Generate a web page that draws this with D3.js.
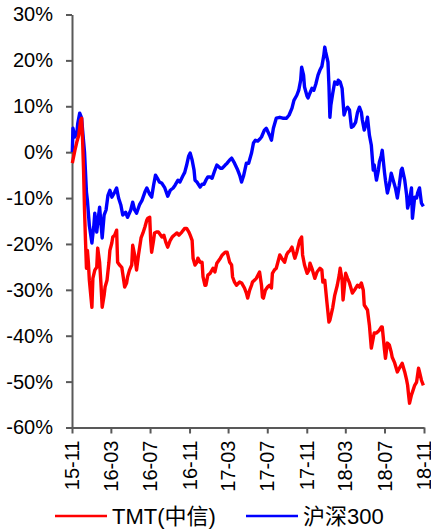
<!DOCTYPE html>
<html>
<head>
<meta charset="utf-8">
<script src="https://cdn.jsdelivr.net/npm/d3@7"></script>
<style>
  body { margin: 0; background: #fff; }
  text { font-family: "Liberation Sans", Arial, "Noto Sans CJK SC", sans-serif; }
</style>
</head>
<body>
<div id="container"></div>
<script>
/** CONSTANTS AND GLOBALS */
const width = 431,
  height = 529,
  margin = { top: 14.5, bottom: 101.5, left: 72, right: 7 };

/** DATA */
const yTicks = [-60, -50, -40, -30, -20, -10, 0, 10, 20, 30];
const xTicks = ["2015-11-01", "2016-03-01", "2016-07-01", "2016-11-01", "2017-03-01",
  "2017-07-01", "2017-11-01", "2018-03-01", "2018-07-01", "2018-11-01"];
const seriesNames = ["TMT(中信)", "沪深300"];
const seriesColors = ["#ff0000", "#0000ff"];

// TMT(中信) cumulative return, %
const tmtDates = ["2015-11-02","2015-11-04","2015-11-10","2015-11-16","2015-11-22","2015-11-28","2015-12-01","2015-12-04","2015-12-07","2015-12-10","2015-12-13","2015-12-16","2015-12-19","2015-12-22","2015-12-25","2016-01-02","2016-01-05","2016-01-11","2016-01-17","2016-01-20","2016-01-26","2016-01-30","2016-02-03","2016-02-09","2016-02-12","2016-02-18","2016-02-24","2016-02-27","2016-03-04","2016-03-07","2016-03-13","2016-03-19","2016-03-22","2016-03-28","2016-04-04","2016-04-10","2016-04-13","2016-04-19","2016-04-22","2016-04-28","2016-05-05","2016-05-08","2016-05-14","2016-05-20","2016-05-26","2016-06-03","2016-06-09","2016-06-15","2016-06-21","2016-06-24","2016-06-30","2016-07-03","2016-07-06","2016-07-12","2016-07-15","2016-07-21","2016-07-27","2016-08-07","2016-08-13","2016-08-19","2016-08-25","2016-09-02","2016-09-08","2016-09-14","2016-09-23","2016-09-29","2016-10-08","2016-10-17","2016-10-23","2016-10-30","2016-11-03","2016-11-09","2016-11-12","2016-11-18","2016-11-24","2016-11-27","2016-12-04","2016-12-10","2016-12-13","2016-12-19","2016-12-22","2016-12-28","2017-01-04","2017-01-13","2017-01-19","2017-01-25","2017-02-05","2017-02-11","2017-02-20","2017-02-26","2017-03-06","2017-03-12","2017-03-15","2017-03-21","2017-03-27","2017-04-06","2017-04-12","2017-04-21","2017-04-27","2017-05-01","2017-05-07","2017-05-13","2017-05-16","2017-05-22","2017-05-28","2017-06-07","2017-06-13","2017-06-16","2017-06-19","2017-06-25","2017-07-02","2017-07-08","2017-07-14","2017-07-17","2017-07-23","2017-07-29","2017-08-09","2017-08-15","2017-08-24","2017-08-30","2017-09-04","2017-09-10","2017-09-16","2017-09-22","2017-09-25","2017-10-01","2017-10-04","2017-10-10","2017-10-16","2017-10-19","2017-10-25","2017-11-02","2017-11-08","2017-11-11","2017-11-17","2017-11-26","2017-12-03","2017-12-12","2017-12-18","2017-12-21","2017-12-27","2018-01-03","2018-01-09","2018-01-12","2018-01-21","2018-01-27","2018-02-04","2018-02-10","2018-02-13","2018-02-19","2018-02-22","2018-02-25","2018-03-02","2018-03-08","2018-03-14","2018-03-23","2018-03-29","2018-04-08","2018-04-14","2018-04-20","2018-04-26","2018-04-29","2018-05-09","2018-05-15","2018-05-21","2018-05-30","2018-06-06","2018-06-15","2018-06-21","2018-06-24","2018-07-01","2018-07-04","2018-07-10","2018-07-16","2018-07-22","2018-07-25","2018-08-01","2018-08-10","2018-08-16","2018-08-25","2018-09-02","2018-09-08","2018-09-11","2018-09-14","2018-09-17","2018-09-23","2018-09-26","2018-10-03","2018-10-09","2018-10-15","2018-10-18","2018-10-24","2018-10-30"];
const tmtValues = [-2.4,-1.7,0.4,2.2,3.7,7.0,7.4,2.6,-3.9,-12.6,-19.2,-25.3,-21.4,-24.0,-27.9,-33.8,-27.5,-25.7,-25.1,-20.9,-24.0,-28.5,-33.8,-31.2,-29.4,-27.9,-24.0,-21.4,-19.8,-18.5,-18.1,-17.0,-24.0,-24.6,-25.1,-27.9,-29.4,-28.5,-27.2,-25.7,-24.6,-20.3,-22.4,-25.7,-22.4,-18.7,-17.6,-16.3,-14.8,-14.4,-14.2,-19.2,-21.8,-19.2,-17.6,-17.4,-17.4,-18.5,-18.1,-19.6,-20.7,-19.2,-18.5,-18.1,-17.6,-18.1,-17.4,-16.6,-16.6,-17.4,-18.1,-19.2,-23.1,-24.6,-24.0,-23.1,-24.0,-24.0,-27.2,-29.0,-29.0,-26.8,-26.4,-25.3,-26.1,-24.2,-23.1,-22.4,-21.8,-21.8,-24.0,-24.6,-27.2,-28.3,-29.0,-28.3,-28.5,-29.6,-30.7,-31.8,-30.1,-29.0,-28.3,-27.9,-27.5,-26.1,-29.0,-31.6,-31.8,-30.1,-29.4,-29.0,-29.6,-26.4,-25.7,-25.3,-22.4,-23.1,-24.0,-22.4,-21.8,-21.4,-20.7,-22.4,-23.1,-21.8,-20.9,-19.2,-18.5,-22.4,-24.6,-26.4,-25.7,-24.2,-25.3,-27.5,-26.1,-25.3,-25.7,-28.3,-27.9,-32.9,-37.0,-36.6,-33.8,-31.2,-29.0,-26.8,-25.3,-27.9,-32.2,-30.1,-26.4,-27.5,-28.5,-30.7,-30.1,-29.0,-29.4,-28.5,-30.1,-33.3,-34.4,-37.7,-42.7,-39.4,-39.4,-38.8,-38.1,-38.1,-43.1,-44.9,-41.6,-42.0,-43.6,-44.7,-45.8,-47.9,-47.1,-46.0,-47.9,-49.7,-50.8,-52.9,-54.7,-52.9,-52.3,-50.8,-50.1,-47.1,-47.9,-49.7,-50.8];

// 沪深300 cumulative return, %
const hsDates = ["2015-11-02","2015-11-04","2015-11-10","2015-11-16","2015-11-19","2015-11-25","2015-12-01","2015-12-04","2015-12-10","2015-12-16","2015-12-19","2015-12-25","2016-01-02","2016-01-08","2016-01-11","2016-01-17","2016-01-23","2016-01-26","2016-02-03","2016-02-09","2016-02-15","2016-02-21","2016-02-27","2016-03-04","2016-03-13","2016-03-19","2016-03-25","2016-04-01","2016-04-07","2016-04-16","2016-04-22","2016-05-02","2016-05-08","2016-05-14","2016-05-20","2016-05-29","2016-06-06","2016-06-15","2016-06-21","2016-06-30","2016-07-06","2016-07-12","2016-07-18","2016-07-24","2016-07-30","2016-08-07","2016-08-16","2016-08-25","2016-09-02","2016-09-11","2016-09-17","2016-09-26","2016-10-02","2016-10-11","2016-10-17","2016-10-23","2016-10-29","2016-11-03","2016-11-09","2016-11-15","2016-11-18","2016-11-24","2016-12-04","2016-12-10","2016-12-16","2016-12-22","2016-12-28","2017-01-04","2017-01-10","2017-01-19","2017-01-25","2017-02-05","2017-02-11","2017-02-20","2017-02-26","2017-03-06","2017-03-12","2017-03-21","2017-03-31","2017-04-06","2017-04-12","2017-04-18","2017-04-27","2017-05-04","2017-05-13","2017-05-19","2017-05-25","2017-06-01","2017-06-07","2017-06-13","2017-06-22","2017-06-28","2017-07-08","2017-07-14","2017-07-20","2017-07-29","2017-08-09","2017-08-18","2017-08-24","2017-08-30","2017-09-07","2017-09-16","2017-09-22","2017-10-01","2017-10-07","2017-10-13","2017-10-16","2017-10-22","2017-10-25","2017-11-02","2017-11-05","2017-11-11","2017-11-17","2017-11-23","2017-11-29","2017-12-06","2017-12-12","2017-12-18","2017-12-24","2017-12-27","2017-12-30","2018-01-06","2018-01-09","2018-01-12","2018-01-15","2018-01-21","2018-01-27","2018-02-04","2018-02-07","2018-02-13","2018-02-19","2018-02-25","2018-03-02","2018-03-08","2018-03-14","2018-03-20","2018-03-26","2018-04-02","2018-04-08","2018-04-14","2018-04-20","2018-04-23","2018-04-29","2018-05-06","2018-05-09","2018-05-15","2018-05-21","2018-05-27","2018-05-30","2018-06-06","2018-06-12","2018-06-15","2018-06-21","2018-06-24","2018-07-01","2018-07-04","2018-07-10","2018-07-16","2018-07-22","2018-07-28","2018-08-04","2018-08-10","2018-08-16","2018-08-22","2018-08-25","2018-09-02","2018-09-08","2018-09-11","2018-09-17","2018-09-23","2018-09-26","2018-10-03","2018-10-09","2018-10-12","2018-10-18","2018-10-24","2018-10-30"];
const hsValues = [0,5.2,3.3,4.1,6.3,8.5,7.4,4.8,0,-8.7,-10.5,-16.0,-19.8,-16.0,-13.3,-17.4,-13.7,-12.0,-18.7,-13.7,-12.6,-9.4,-8.3,-9.8,-8.7,-7.8,-10.0,-11.5,-13.7,-13.1,-14.2,-12.6,-10.9,-12.6,-13.3,-11.5,-10.5,-8.7,-7.8,-9.2,-9.8,-7.2,-5.0,-5.7,-6.5,-6.8,-7.8,-9.6,-8.3,-7.8,-7.2,-6.1,-6.5,-5.2,-4.4,-2.8,-0.9,-0.2,-1.7,-3.9,-6.1,-6.5,-7.6,-7.0,-7.0,-6.1,-5.4,-5.4,-5.7,-3.9,-2.8,-3.5,-3.5,-2.8,-2.4,-1.7,-1.3,-2.4,-3.9,-5.0,-6.5,-5.2,-2.4,-2.4,-0.2,2.0,2.6,2.4,2.8,3.3,4.8,5.2,3.7,2.6,5.2,7.4,7.6,7.4,7.4,7.4,8.1,9.6,11.3,12.4,13.5,15.7,18.5,16.8,14.2,12.2,11.8,12.9,13.9,13.5,14.8,16.8,17.9,18.7,21.1,22.9,21.8,19.6,14.6,7.6,10.2,12.9,15.3,14.8,15.7,15.3,13.9,8.1,9.2,9.8,9.2,5.4,5.7,6.5,8.7,9.8,8.7,7.0,4.8,6.5,7.6,3.7,1.5,-3.9,-2.8,-6.1,-3.9,-2.2,-0.7,0.4,-4.4,-6.1,-8.9,-7.2,-4.6,-6.1,-7.8,-10.0,-7.2,-3.9,-3.5,-6.1,-9.4,-12.2,-10.5,-7.8,-14.4,-9.8,-10.0,-8.9,-7.8,-11.1,-11.8];

let svg;

/** INITIALIZING FUNCTION */
function init() {
  const parse = d3.timeParse("%Y-%m-%d");

  const series = [
    tmtDates.map((d, i) => ({ date: parse(d), value: tmtValues[i] })),
    hsDates.map((d, i) => ({ date: parse(d), value: hsValues[i] }))
  ];

  const x = d3.scaleTime()
    .domain([parse(xTicks[0]), parse(xTicks[xTicks.length - 1])])
    .range([margin.left, width - margin.right]);

  const y = d3.scaleLinear()
    .domain([d3.min(yTicks), d3.max(yTicks)])
    .range([height - margin.bottom, margin.top]);

  svg = d3.select("#container")
    .append("svg")
    .attr("width", width)
    .attr("height", height);

  const axisColor = "#595959";

  // y axis
  const yAxis = svg.append("g")
    .attr("transform", `translate(${margin.left},0)`)
    .call(d3.axisLeft(y)
      .tickValues(yTicks)
      .tickFormat(d => d + "%")
      .tickSize(6)
      .tickSizeOuter(0)
      .tickPadding(13));

  // x axis
  const xAxis = svg.append("g")
    .attr("transform", `translate(0,${height - margin.bottom})`)
    .call(d3.axisBottom(x)
      .tickValues(xTicks.map(parse))
      .tickFormat(d3.timeFormat("%y-%m"))
      .tickSize(6)
      .tickSizeOuter(0));

  xAxis.selectAll("text")
    .attr("transform", "rotate(-90)")
    .attr("text-anchor", "end")
    .attr("x", -13)
    .attr("y", 0)
    .attr("dy", "0.33em");

  [xAxis, yAxis].forEach(g => {
    g.selectAll("path, line").attr("stroke", axisColor).attr("stroke-width", 2);
    g.selectAll("text").attr("fill", "#000").style("font-size", "20px");
  });

  const line = d3.line()
    .x(d => x(d.date))
    .y(d => y(d.value));

  // draw blue first, red on top
  svg.selectAll(".series")
    .data([series[1], series[0]])
    .join("path")
    .attr("class", "series")
    .attr("fill", "none")
    .attr("stroke", (d, i) => i === 0 ? seriesColors[1] : seriesColors[0])
    .attr("stroke-width", 3.4)
    .attr("stroke-linejoin", "round")
    .attr("d", line);

  // legend
  const legendX = [55, 246];
  const legend = svg.selectAll(".legend")
    .data(seriesNames)
    .join("g")
    .attr("class", "legend")
    .attr("transform", (d, i) => `translate(${legendX[i]}, 516)`);

  legend.append("line")
    .attr("x1", 0)
    .attr("x2", 52)
    .attr("stroke", (d, i) => seriesColors[i])
    .attr("stroke-width", 2.5);

  legend.append("text")
    .attr("x", 57)
    .attr("dy", "0.35em")
    .style("font-size", "22px")
    .attr("fill", "#000")
    .text(d => d);
}

init();
</script>
</body>
</html>
